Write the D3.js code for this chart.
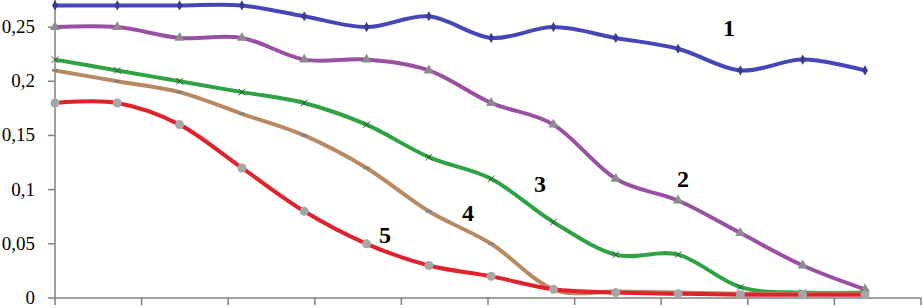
<!DOCTYPE html>
<html>
<head>
<meta charset="utf-8">
<script src="https://cdn.jsdelivr.net/npm/d3@7"></script>
<style>
  body { margin: 0; background: #fff; }
  svg { display: block; }
</style>
</head>
<body>
<script>
//data
var points = d3.range(14); //14 measurement points
var series1 = [0.27, 0.27, 0.27, 0.27, 0.26, 0.25, 0.26, 0.24, 0.25, 0.24, 0.23, 0.21, 0.22, 0.21];
var series2 = [0.25, 0.25, 0.24, 0.24, 0.22, 0.22, 0.21, 0.18, 0.16, 0.11, 0.09, 0.06, 0.03, 0.008];
var series3 = [0.22, 0.21, 0.20, 0.19, 0.18, 0.16, 0.13, 0.11, 0.07, 0.04, 0.04, 0.01, 0.005, 0.005];
var series4 = [0.21, 0.20, 0.19, 0.17, 0.15, 0.12, 0.08, 0.05, 0.008, 0.006, 0.005, 0.004, 0.004, 0.004];
var series5 = [0.18, 0.18, 0.16, 0.12, 0.08, 0.05, 0.03, 0.02, 0.008, 0.005, 0.004, 0.003, 0.003, 0.003];
var yTicks = [0, 0.05, 0.1, 0.15, 0.2, 0.25];
var xTicks = d3.range(11); //unlabelled category ticks
var seriesNames = ["1", "2", "3", "4", "5"];

var serif = "'Liberation Serif', 'DejaVu Serif', serif";
var width = 923, height = 308;
var svg = d3.select("body").append("svg")
    .attr("width", width)
    .attr("height", height);

//scales
var y = d3.scaleLinear().domain([0, 0.275]).range([298, 0]);
var xAxisScale = d3.scaleLinear().domain([0, 10]).range([55, 921]);
var x = d3.scalePoint().domain(points).range([55, 865]);

//axes
svg.append("line")
    .attr("x1", 55).attr("x2", 55)
    .attr("y1", 0).attr("y2", y(0))
    .attr("stroke", "#7f7f7f").attr("stroke-width", 1.5);
svg.append("line")
    .attr("x1", 55).attr("x2", 921)
    .attr("y1", y(0)).attr("y2", y(0))
    .attr("stroke", "#7f7f7f").attr("stroke-width", 1.5);

svg.selectAll(".yTick")
    .data(yTicks)
    .enter()
    .append("line")
    .attr("class", "yTick")
    .attr("x1", 48).attr("x2", 55)
    .attr("y1", function(d){ return y(d); })
    .attr("y2", function(d){ return y(d); })
    .attr("stroke", "#7f7f7f").attr("stroke-width", 1.5);

svg.selectAll(".tickLabel")
    .data(yTicks)
    .enter()
    .append("text")
    .attr("class", "tickLabel")
    .attr("text-anchor", "end")
    .attr("font-family", serif)
    .attr("font-size", 19)
    .attr("x", 35)
    .attr("y", function(d){ return y(d) + 6; })
    .text(function(d){ return String(d).replace(".", ","); });

svg.selectAll(".xTick")
    .data(xTicks)
    .enter()
    .append("line")
    .attr("class", "xTick")
    .attr("x1", function(d){ return xAxisScale(d); })
    .attr("x2", function(d){ return xAxisScale(d); })
    .attr("y1", y(0)).attr("y2", y(0) + 7)
    .attr("stroke", "#7f7f7f").attr("stroke-width", 1.5);

//series styles
var seriesData = [series1, series2, series3, series4, series5];
var colors = ["#4546b8", "#9a50a2", "#2fa244", "#b98a62", "#e0222c"];
var markers = ["diamond", "triangle", "cross", "dash", "circle"];

var line = d3.line()
    .x(function(d, i){ return x(i); })
    .y(function(d){ return y(d); })
    .curve(d3.curveCardinal.tension(0));

//later series drawn on top, like the original
for (var s = 0; s < seriesData.length; s++){
    var g = svg.append("g").attr("class", "series s" + (s + 1));
    g.append("path")
        .datum(seriesData[s])
        .attr("d", line)
        .attr("fill", "none")
        .attr("stroke", colors[s])
        .attr("stroke-width", 4);

    var pts = g.selectAll(".pt")
        .data(seriesData[s])
        .enter();
    if (markers[s] == "diamond"){
        pts.append("path")
            .attr("d", d3.symbol().type(d3.symbolDiamond).size(30))
            .attr("transform", function(d, i){ return "translate(" + x(i) + "," + y(d) + ")"; })
            .attr("fill", "#3a3c8c");
    } else if (markers[s] == "triangle"){
        pts.append("path")
            .attr("d", d3.symbol().type(d3.symbolTriangle).size(45))
            .attr("transform", function(d, i){ return "translate(" + x(i) + "," + y(d) + ")"; })
            .attr("fill", "#8c8c8c");
    } else if (markers[s] == "cross"){
        pts.append("path")
            .attr("d", d3.symbol().type(d3.symbolX).size(30))
            .attr("transform", function(d, i){ return "translate(" + x(i) + "," + y(d) + ")"; })
            .attr("fill", "none")
            .attr("stroke", "#2a5a30")
            .attr("stroke-width", 1);
    } else if (markers[s] == "dash"){
        pts.append("line")
            .attr("x1", function(d, i){ return x(i) - 3; })
            .attr("x2", function(d, i){ return x(i) + 3; })
            .attr("y1", function(d){ return y(d); })
            .attr("y2", function(d){ return y(d); })
            .attr("stroke", "#808080")
            .attr("stroke-width", 2.5);
    } else {
        pts.append("circle")
            .attr("cx", function(d, i){ return x(i); })
            .attr("cy", function(d){ return y(d); })
            .attr("r", 4.5)
            .attr("fill", "#a6a6a6");
    }
}

//series numbers placed next to their curves
var labelPos = [[729, 36], [683, 187], [540, 192], [468, 221], [385, 243]];
svg.selectAll(".seriesLabel")
    .data(seriesNames)
    .enter()
    .append("text")
    .attr("class", "seriesLabel")
    .attr("text-anchor", "middle")
    .attr("font-family", serif)
    .attr("font-size", 24)
    .attr("font-weight", "bold")
    .attr("x", function(d, i){ return labelPos[i][0]; })
    .attr("y", function(d, i){ return labelPos[i][1]; })
    .text(function(d){ return d; });
</script>
</body>
</html>
